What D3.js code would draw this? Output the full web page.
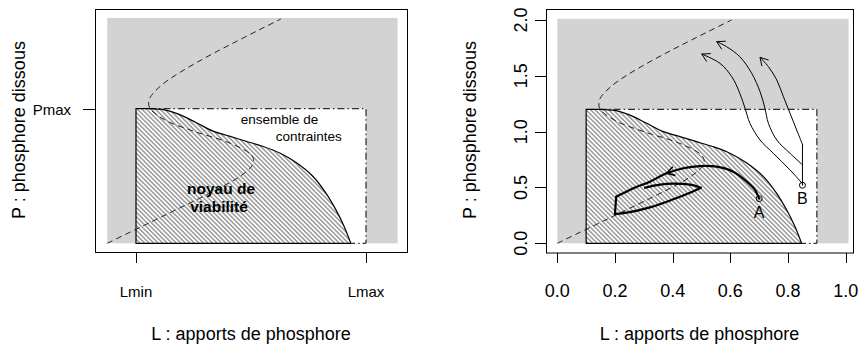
<!DOCTYPE html>
<html><head><meta charset="utf-8">
<script src="https://cdn.jsdelivr.net/npm/d3@7"></script>
<style>body{margin:0;background:#fff}svg{display:block}text{font-family:"Liberation Sans",Arial,sans-serif;fill:#000}</style>
</head><body><svg id="c" width="859" height="347"></svg>
<script>
// ---- data (L, P) ----
const equilibriumCurve = [[0,0],[0.08,0.1],[0.16,0.2],[0.24,0.3],[0.32,0.4],[0.396,0.5],[0.464,0.6],[0.506,0.7],[0.509,0.75],[0.496,0.8],[0.42,0.9],[0.3,1.0],[0.2,1.1],[0.149,1.2],[0.144,1.25],[0.149,1.3],[0.184,1.4],[0.238,1.5],[0.303,1.6],[0.374,1.7],[0.449,1.8],[0.526,1.9],[0.604,2.0]];
const kernelBoundary = [[0.145,1.2],[0.2,1.19],[0.25,1.15],[0.31,1.075],[0.368,1.0],[0.425,0.955],[0.483,0.91],[0.54,0.865],[0.6,0.805],[0.657,0.72],[0.714,0.6],[0.76,0.45],[0.795,0.3],[0.824,0.15],[0.847,0]];
const Lbounds = [0.1, 0.9];
const Pbounds = [0, 1.2];
const grayDomainL = [0, 1.01];
const grayDomainP = [0, 2.01];
const trajA1 = [[0.70,0.40],[0.686,0.477],[0.657,0.552],[0.61,0.641],[0.553,0.686],[0.495,0.692],[0.437,0.672],[0.379,0.627],[0.321,0.552],[0.264,0.493],[0.204,0.417]];
const trajA2 = [[0.2,0.262],[0.241,0.274],[0.321,0.322],[0.402,0.394],[0.46,0.453],[0.498,0.498]];
const trajA3 = [[0.498,0.498],[0.46,0.525],[0.402,0.534],[0.356,0.525],[0.304,0.498]];
const trajB0 = [[0.85,0.52],[0.85,0.88]];
const trajB1 = [[0.851,0.531],[0.807,0.657],[0.749,0.806],[0.703,0.925],[0.668,1.075],[0.651,1.209],[0.633,1.343],[0.605,1.492],[0.564,1.612],[0.501,1.695]];
const trajB2 = [[0.851,0.701],[0.807,0.806],[0.761,0.925],[0.732,1.075],[0.72,1.209],[0.703,1.358],[0.674,1.523],[0.633,1.671],[0.587,1.761],[0.553,1.806]];
const trajB3 = [[0.851,0.88],[0.83,1.015],[0.807,1.164],[0.784,1.313],[0.761,1.463],[0.732,1.582],[0.703,1.666]];
const pointA = [0.70,0.40];
const pointB = [0.85,0.52];
const xTicks = [0,0.2,0.4,0.6,0.8,1.0];
const yTicks = [0,0.5,1.0,1.5,2.0];
const leftXTickLabels = ["Lmin","Lmax"];
const leftYTickLabels = ["Pmax"];

const svg = d3.select("#c");
const defs = svg.append("defs");
const pat = defs.append("pattern").attr("id","hatch").attr("patternUnits","userSpaceOnUse")
  .attr("width",3.2).attr("height",10).attr("patternTransform","rotate(-45)");
pat.append("rect").attr("width",3.2).attr("height",10).attr("fill","#fff");
pat.append("rect").attr("width",1.5).attr("height",10).attr("fill","#9a9a9a");

function panel(cfg){
  const g = svg.append("g");
  const x = d3.scaleLinear().domain([0,1]).range(cfg.xr);
  const y = d3.scaleLinear().domain([0,2]).range(cfg.yr);
  const line = d3.line().x(d=>x(d[0])).y(d=>y(d[1]));
  g.append("rect").attr("x",x(grayDomainL[0])).attr("y",y(grayDomainP[1]))
    .attr("width",x(grayDomainL[1])-x(grayDomainL[0])).attr("height",y(grayDomainP[0])-y(grayDomainP[1]))
    .attr("fill","#d3d3d3");
  g.append("rect").attr("x",x(Lbounds[0])).attr("y",y(Pbounds[1]))
    .attr("width",x(Lbounds[1])-x(Lbounds[0])).attr("height",y(Pbounds[0])-y(Pbounds[1]))
    .attr("fill","#fff");
  const kern = [[Lbounds[0],0],[Lbounds[0],Pbounds[1]]].concat(kernelBoundary);
  const kline = d3.line().x(d=>x(d[0])).y(d=>y(d[1])).curve(d3.curveLinear);
  g.append("path").attr("d",kline(kern)+"Z").attr("fill","url(#hatch)").attr("stroke","none");
  g.append("path").attr("d",d3.line().x(d=>x(d[0])).y(d=>y(d[1])).curve(d3.curveCatmullRom)(kernelBoundary))
    .attr("fill","none").attr("stroke","#000").attr("stroke-width",1.2);
  g.append("path").attr("d",kline([[kernelBoundary[0][0],Pbounds[1]],[Lbounds[0],Pbounds[1]],[Lbounds[0],0],[kernelBoundary[kernelBoundary.length-1][0],0]]))
    .attr("fill","none").attr("stroke","#000").attr("stroke-width",1.2);
  g.append("path").attr("d",kline([[kernelBoundary[0][0],Pbounds[1]],[Lbounds[1],Pbounds[1]],[Lbounds[1],0],[kernelBoundary[kernelBoundary.length-1][0],0]]))
    .attr("fill","none").attr("stroke","#000").attr("stroke-width",1).attr("stroke-dasharray","7,3,1.5,3");
  g.append("path").attr("d",d3.line().x(d=>x(d[0])).y(d=>y(d[1])).curve(d3.curveCatmullRom)(equilibriumCurve))
    .attr("fill","none").attr("stroke","#222").attr("stroke-width",1).attr("stroke-dasharray","6,4");
  g.append("rect").attr("x",cfg.box[0]+0.5).attr("y",cfg.box[1]+0.5)
    .attr("width",cfg.box[2]-cfg.box[0]).attr("height",cfg.box[3]-cfg.box[1])
    .attr("fill","none").attr("stroke","#000").attr("stroke-width",1);
  g.append("text").attr("x",(cfg.box[0]+cfg.box[2])/2).attr("y",340).attr("text-anchor","middle")
    .attr("font-size",18).text("L : apports de phosphore");
  g.append("text").attr("transform",`translate(${cfg.ylabX},130) rotate(-90)`).attr("text-anchor","middle")
    .attr("font-size",18).text("P : phosphore dissous");
  return {g,x,y,line};
}

// ---- left panel ----
const L = panel({xr:[107.25,394.75], yr:[243.3,19], box:[95,9,407,252], ylabX:24.5});
[Lbounds[0],Lbounds[1]].forEach((v,i)=>{
  L.g.append("line").attr("x1",Math.round(L.x(v))+0.5).attr("x2",Math.round(L.x(v))+0.5).attr("y1",252).attr("y2",263).attr("stroke","#000");
  L.g.append("text").attr("x",L.x(v)).attr("y",296.5).attr("text-anchor","middle").attr("font-size",15).text(leftXTickLabels[i]);
});
L.g.append("line").attr("x1",83).attr("x2",95).attr("y1",Math.round(L.y(Pbounds[1]))+0.5).attr("y2",Math.round(L.y(Pbounds[1]))+0.5).attr("stroke","#000");
L.g.append("text").attr("x",71).attr("y",L.y(Pbounds[1])+6).attr("text-anchor","end").attr("font-size",15).text(leftYTickLabels[0]);
L.g.append("text").attr("x",279.5).attr("y",124).attr("text-anchor","middle").attr("font-size",13.5).text("ensemble de");
L.g.append("text").attr("x",308.7).attr("y",140.5).attr("text-anchor","middle").attr("font-size",13.5).text("contraintes");
L.g.append("text").attr("x",221).attr("y",194).attr("text-anchor","middle").attr("font-size",15.5).attr("font-weight","bold").text("noyau de");
L.g.append("text").attr("x",219).attr("y",211.5).attr("text-anchor","middle").attr("font-size",15.5).attr("font-weight","bold").text("viabilité");

// ---- right panel ----
const R = panel({xr:[557.3,845.7], yr:[243.3,20], box:[546,9,853,252.5], ylabX:476});
xTicks.forEach(v=>{
  const px = Math.round(R.x(v))+0.5;
  R.g.append("line").attr("x1",px).attr("x2",px).attr("y1",253).attr("y2",263).attr("stroke","#000");
  R.g.append("text").attr("x",R.x(v)).attr("y",296.5).attr("text-anchor","middle").attr("font-size",18).text(d3.format(".1f")(v));
});
yTicks.forEach(v=>{
  const py = Math.round(R.y(v))+0.5;
  R.g.append("line").attr("x1",535).attr("x2",546).attr("y1",py).attr("y2",py).attr("stroke","#000");
  R.g.append("text").attr("transform",`translate(527,${R.y(v)}) rotate(-90)`).attr("text-anchor","middle").attr("font-size",18).text(d3.format(".1f")(v));
});
const smooth = d3.line().x(d=>R.x(d[0])).y(d=>R.y(d[1])).curve(d3.curveCatmullRom);
function drawPath(pts, w){
  R.g.append("path").attr("d",smooth(pts)).attr("fill","none").attr("stroke","#000").attr("stroke-width",w).attr("stroke-linejoin","round").attr("stroke-linecap","round");
}
function arrowHead(p0,p1,len,w){
  const x0=R.x(p0[0]),y0=R.y(p0[1]),x1=R.x(p1[0]),y1=R.y(p1[1]);
  const a=Math.atan2(y1-y0,x1-x0), s=Math.PI/6;
  const pts=[[x1-len*Math.cos(a-s),y1-len*Math.sin(a-s)],[x1,y1],[x1-len*Math.cos(a+s),y1-len*Math.sin(a+s)]];
  R.g.append("path").attr("d",d3.line()(pts)).attr("fill","none").attr("stroke","#000").attr("stroke-width",w).attr("stroke-linejoin","round");
}
drawPath(trajA1,2.2);
drawPath([trajA1[trajA1.length-1],trajA2[0]],2.2);
drawPath(trajA2,2.2);
drawPath(trajA3,2.2);
arrowHead(trajA1[6],trajA1[7],9,1.6);
drawPath(trajB0,1);
drawPath(trajB1,1);
drawPath(trajB2,1);
drawPath(trajB3,1);
arrowHead(trajB1[trajB1.length-2],trajB1[trajB1.length-1],9,1);
arrowHead(trajB2[trajB2.length-2],trajB2[trajB2.length-1],9,1);
arrowHead(trajB3[trajB3.length-2],trajB3[trajB3.length-1],9,1);
[[pointA,"A"],[pointB,"B"]].forEach(([p,lab])=>{
  R.g.append("circle").attr("cx",R.x(p[0])).attr("cy",R.y(p[1])).attr("r",3).attr("fill","none").attr("stroke","#000").attr("stroke-width",1);
  R.g.append("text").attr("x",R.x(p[0])).attr("y",R.y(p[1])+19).attr("text-anchor","middle").attr("font-size",16).text(lab);
});
</script></body></html>
